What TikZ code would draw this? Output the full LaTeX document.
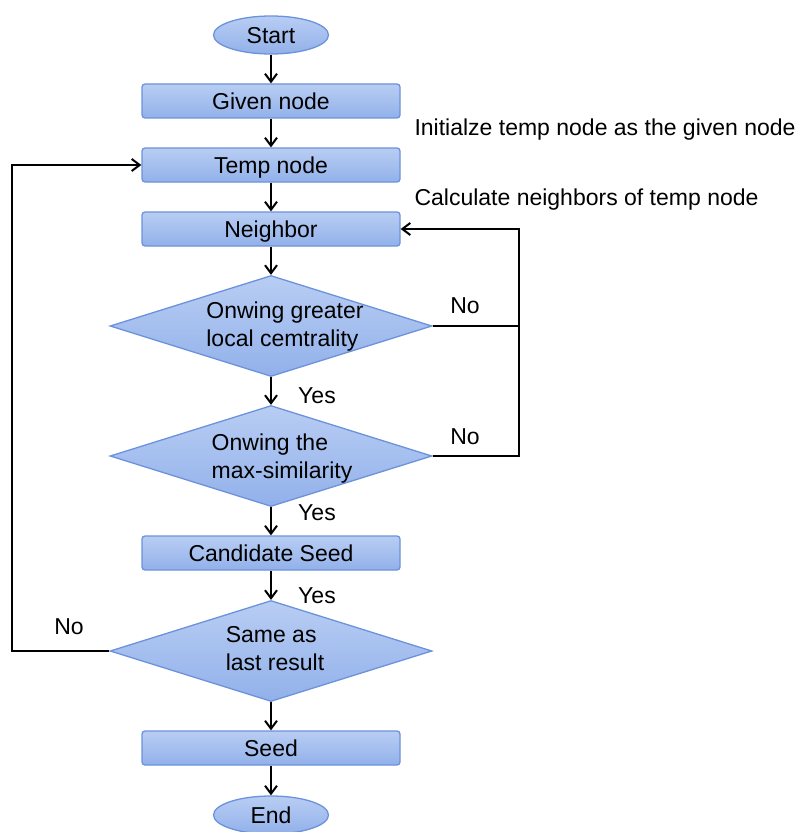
\documentclass[tikz,border=0pt]{standalone}
\usepackage{fontspec}
\setmainfont{Liberation Sans}
\usepackage{xcolor}
\usetikzlibrary{shapes.geometric, arrows.meta, positioning}
\definecolor{boxtop}{RGB}{184,205,243}
\definecolor{boxbot}{RGB}{146,177,234}
\definecolor{boxline}{RGB}{108,146,220}

\begin{document}
\begin{tikzpicture}[
    x=1pt, y=-1pt,
    font=\fontsize{23}{28}\selectfont,
    term/.style={ellipse, draw=boxline, line width=1.3pt, top color=boxtop, bottom color=boxbot, minimum width=115pt, minimum height=38pt, inner sep=0pt, text height=17pt, text depth=0pt},
    proc/.style={rectangle, rounded corners=3pt, draw=boxline, line width=1.3pt, top color=boxtop, bottom color=boxbot, minimum width=258pt, minimum height=34pt, inner sep=0pt, text height=17pt, text depth=0pt},
    decide/.style={diamond, draw=boxline, line width=1.3pt, top color=boxtop, bottom color=boxbot, minimum width=322pt, minimum height=101pt, inner sep=0pt, shape aspect=3.2},
    dtext/.style={align=left, inner sep=0pt},
    arr/.style={-{Straight Barb[length=8pt, width=12pt]}, line width=2pt},
    lnk/.style={line width=2pt}
]
\useasboundingbox (0,0) rectangle (799,832);
\node[term] (start) at (271,35) {Start};
\node[proc] (given) at (271,101) {Given node};
\node[proc] (temp) at (271,165) {Temp node};
\node[proc] (nbr) at (271,229) {Neighbor};
\node[decide] (cent) at (271,326) {};
\node[decide] (sim) at (271,456) {};
\node[proc] (cand) at (271,553) {Candidate Seed};
\node[decide] (same) at (271,651) {};
\node[proc] (seed) at (271,748) {Seed};
\node[term] (end) at (271,815) {End};

% text of the decisions, left aligned as in the drawing
\node[dtext] (centtxt) at (285,327) {Onwing greater\\local cemtrality};
\node[dtext] (simtxt) at (282,459) {Onwing the\\max-similarity};
\node[dtext] (sametxt) at (275,649) {Same as\\last result};

\node[anchor=west] (initnote) at (411,130) {Initialze temp node as the given node};
\node[anchor=west] (calcnote) at (411,200) {Calculate neighbors of temp node};

\coordinate (rcent) at (519,326);
\coordinate (rsim) at (519,456);
\coordinate (rnbr) at (519,229);
\coordinate (lsame) at (12,651);
\coordinate (ltemp) at (12,165);

\draw[arr] (start) -- (given);
\draw[arr] (given) -- (temp);
\draw[arr] (temp) -- (nbr);
\draw[arr] (nbr) -- (cent);
\draw[arr] (cent) -- (sim);
\draw[arr] (sim) -- (cand);
\draw[arr] (cand) -- (same);
\draw[arr] (same) -- (seed);
\draw[arr] (seed) -- (end);

\draw[lnk] (sim.east) -- (rsim) -- (rcent);
\draw[arr] (cent.east) -- (rcent) -- (rnbr) -- (nbr.east);
\draw[arr] (same.west) -- (lsame) -- (ltemp) -- (temp.west);

\node (no1) at (465,306) {No};
\node (no2) at (465,437) {No};
\node (no3) at (69,627) {No};
\node (yes1) at (317,396) {Yes};
\node (yes2) at (317,513) {Yes};
\node (yes3) at (317,596) {Yes};
\end{tikzpicture}
\end{document}
